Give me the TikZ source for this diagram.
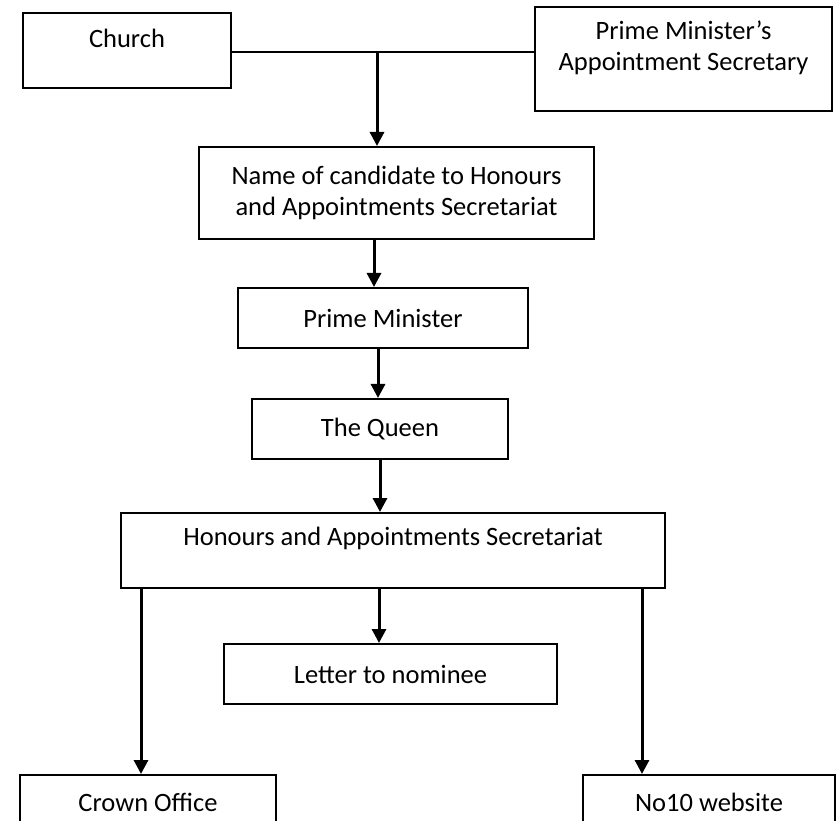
\documentclass[tikz,border=0pt]{standalone}
\usepackage{fontspec}
\setmainfont{Carlito}
\usetikzlibrary{arrows.meta}
\begin{document}
\begin{tikzpicture}[x=1pt,y=-1pt,
  box/.style={draw, line width=2pt, rectangle, inner sep=0pt},
  txt/.style={font=\fontsize{26.5}{31}\selectfont, align=center, inner sep=0pt},
  arr/.style={line width=3pt, -{Triangle[width=14pt,length=14pt]}},
  conn/.style={line width=2.4pt}]
\clip (0,0) rectangle (839,821);
\fill[white] (0,0) rectangle (839,821);
% boxes
\node[box, minimum width=208pt, minimum height=75pt] (church) at (127,50.5) {};
\node[txt] (churcht) at (127,38) {Church};
\node[box, minimum width=297pt, minimum height=104pt] (pmsec) at (683.5,59) {};
\node[txt] (pmsect) at (683.5,47.5) {Prime Minister’s\\Appointment Secretary};
\node[box, txt, minimum width=395pt, minimum height=92pt] (name) at (396.5,193) {Name of candidate to Honours\\and Appointments Secretariat};
\node[box, txt, minimum width=290pt, minimum height=60pt] (pm) at (383,318) {Prime Minister};
\node[box, txt, minimum width=256pt, minimum height=60pt] (queen) at (380,429) {The Queen};
\node[box, minimum width=544pt, minimum height=75pt] (hon) at (393,550.5) {};
\node[txt] (hont) at (393,538) {Honours and Appointments Secretariat};
\node[box, txt, minimum width=333pt, minimum height=60pt] (letter) at (390.5,674) {Letter to nominee};
\node[box, minimum width=256pt, minimum height=70pt] (crown) at (148,810) {};
\node[txt] (crownt) at (148,802) {Crown Office};
\node[box, minimum width=252pt, minimum height=70pt] (no10) at (709,810) {};
\node[txt] (no10t) at (709,802) {No10 website};
% connector helpers
\coordinate (j) at (377,52);
\coordinate (xa) at (374,0);
\coordinate (xb) at (378,0);
\coordinate (xc) at (380,0);
\coordinate (xd) at (379,0);
\coordinate (xl) at (141,0);
\coordinate (xr) at (642,0);
% connectors
\draw[conn] (church.east |- j) -- (pmsec.west |- j);
\draw[arr] (j) -- (name.north -| j);
\draw[arr] (name.south -| xa) -- (pm.north -| xa);
\draw[arr] (pm.south -| xb) -- (queen.north -| xb);
\draw[arr] (queen.south -| xc) -- (hon.north -| xc);
\draw[arr] (hon.south -| xd) -- (letter.north -| xd);
\draw[arr] (hon.south -| xl) -- (crown.north -| xl);
\draw[arr] (hon.south -| xr) -- (no10.north -| xr);
\end{tikzpicture}
\end{document}
